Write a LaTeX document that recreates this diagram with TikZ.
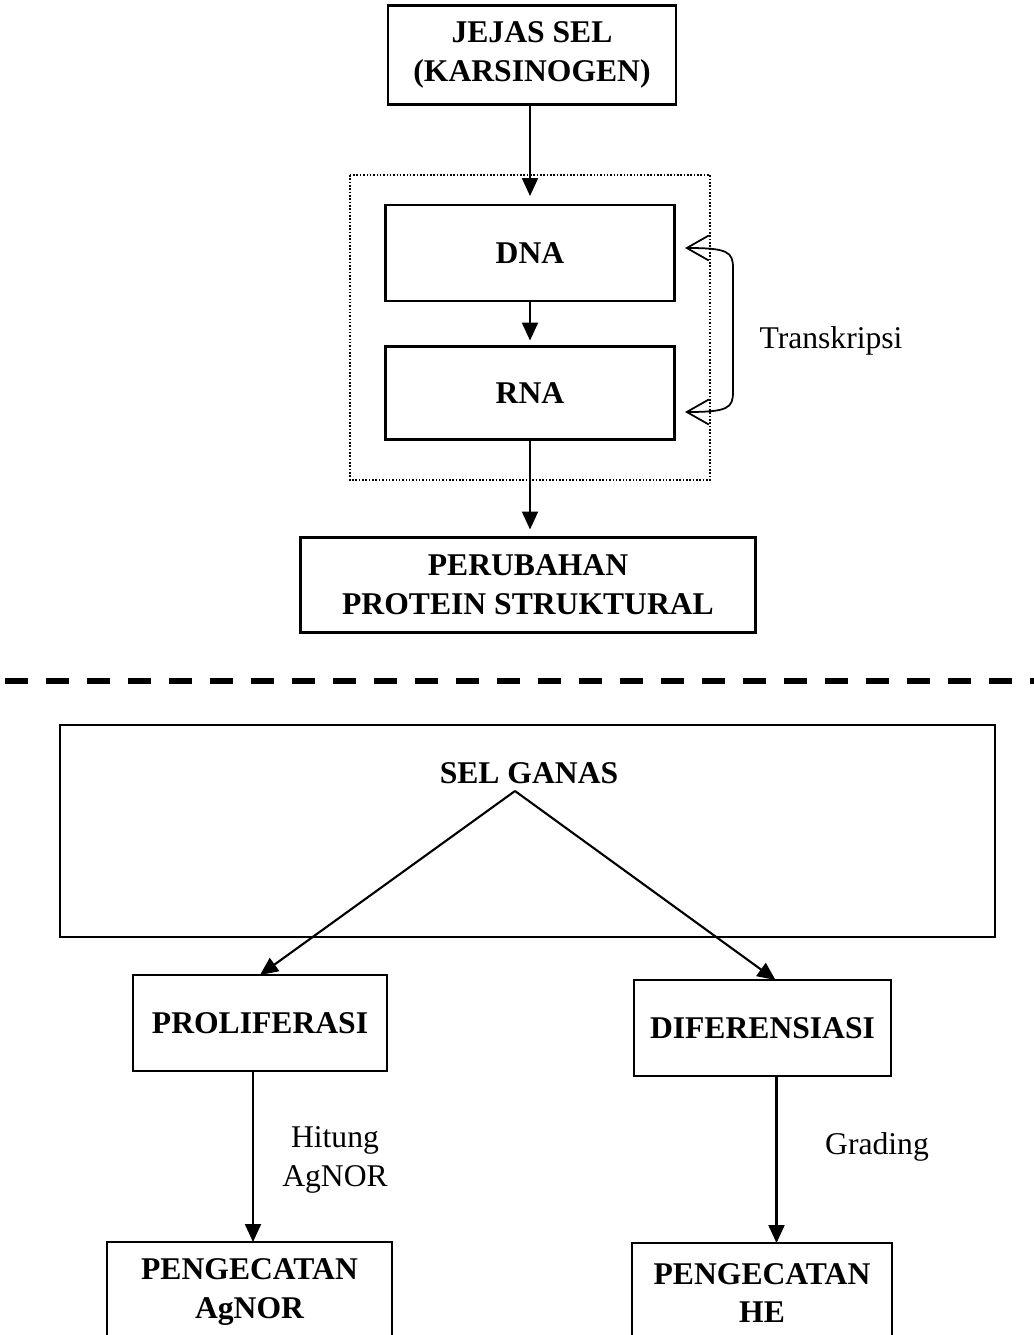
\documentclass[tikz,border=0pt]{standalone}
\usepackage{fontspec}
\setmainfont{Liberation Serif}
\usetikzlibrary{arrows.meta,positioning,calc}
\tikzset{
  box/.style={rectangle, draw, line width=1.3pt, inner sep=0pt, outer sep=0pt,
    align=center, font=\fontsize{18}{22}\selectfont\bfseries},
  notetext/.style={align=center, font=\fontsize{18}{22}\selectfont},
  flow/.style={-{Triangle[length=0.36cm,width=0.32cm]}, line width=1.2pt},
  loopflow/.style={{Straight Barb[length=0.44cm,width=0.5cm]}-{Straight Barb[length=0.44cm,width=0.5cm]},
    line width=1pt},
  groupbg/.style={draw, densely dotted, line width=0.9pt},
  divider/.style={line width=3.4pt, dash pattern=on 0.46cm off 0.36cm}
}

\begin{document}
\begin{tikzpicture}[x=0.02cm, y=-0.02cm]
  \useasboundingbox (0,0) rectangle (1034,1335);

  % --- upper part: jejas sel ---
  \node[box, minimum width=5.76cm, minimum height=1.98cm] (jejas) at (532,55) {JEJAS SEL\\(KARSINOGEN)};

  \draw[groupbg] (350,175) rectangle (710,480);
  \node[box, minimum width=5.78cm, minimum height=1.92cm] (dna) at (530,253) {DNA};
  \node[box, minimum width=5.78cm, minimum height=1.86cm] (rna) at (530,393) {RNA};

  \node[box, minimum width=9.1cm, minimum height=1.9cm] (protein) at (528,585)
       {PERUBAHAN\\PROTEIN STRUKTURAL};

  \coordinate (dnain) at (685,248);
  \coordinate (rnain) at (685,412);
  \node[notetext] (transkripsi) at (831,341) {Transkripsi};

  % ---------------- edges ----------------
  \draw[flow, shorten >=0.18cm] (jejas.south -| dna.north) -- (dna.north);
  \draw[flow, shorten >=0.12cm] (dna) -- (rna);
  \draw[flow, shorten >=0.16cm] (rna.south) -- (rna.south |- protein.north);
  \draw[loopflow] (dnain) .. controls (728,248) and (733,252) .. (733,268) -- (733,392)
        .. controls (733,408) and (728,412) .. (rnain);

  % --- divider ---
  \draw[divider] (5,681) -- (1034,681);

  % --- lower part: sel ganas ---
  \node[box, minimum width=18.7cm, minimum height=4.24cm] (ganasbox) at (527.5,831) {};
  \node[notetext, font=\fontsize{18}{22}\selectfont\bfseries] (selganas) at (529,773) {SEL GANAS};
  \coordinate (fork) at (515,791);

  \node[box, minimum width=5.08cm, minimum height=1.92cm] (prolif) at (260,1023) {PROLIFERASI};
  \node[box, minimum width=5.14cm, minimum height=1.92cm] (difer) at (762.5,1028) {DIFERENSIASI};

  \node[box, minimum width=5.7cm, minimum height=2cm] (agnor) at (249.5,1292) {PENGECATAN\\AgNOR};
  \node[box, minimum width=5.2cm, minimum height=2cm] (he) at (762,1293) {PENGECATAN\\HE};

  \node[notetext] (hitung) at (335,1160) {Hitung\\AgNOR};
  \node[notetext] (grading) at (877,1147) {Grading};

  % ---------------- edges ----------------
  \draw[flow] (fork) -- (prolif.north);
  \draw[flow] (fork) -- ([xshift=0.26cm]difer.north);
  \draw[flow] ([xshift=-0.14cm]prolif.south) -- ([xshift=-0.14cm]prolif.south |- agnor.north);
  \draw[flow] ([xshift=0.28cm]difer.south) -- ([xshift=0.28cm]difer.south |- he.north);

\end{tikzpicture}
\end{document}
